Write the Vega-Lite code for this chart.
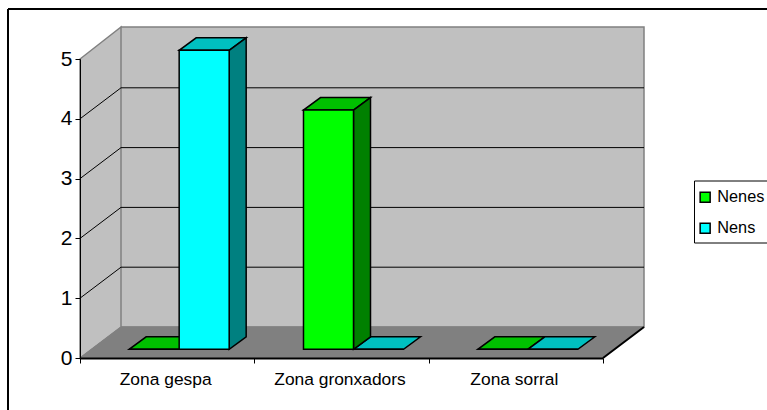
{
"$schema":"https://vega.github.io/schema/vega-lite/v6.json",
"width":523,"height":299,
"autosize":{"type":"none"},
"padding":{"left":80,"top":59,"right":164,"bottom":52},
"background":"white",
"config":{"view":{"stroke":null},"font":"Liberation Sans"},
"layer":[
{"data":{"values":[{}]},
 "mark":{"type":"point","shape":"M41,-31L564,-31L564,-331L41,-331ZM0,0L41,-31L41,-331L0,-299Z","size":4,"filled":true,"fill":"#C0C0C0","stroke":"#808080","strokeWidth":1.5,"opacity":1},
 "encoding":{"x":{"value":0},"y":{"datum":0,"type":"quantitative"}}},
{"data":{"values":[{}]},
 "mark":{"type":"point","shape":"M0,0L41,-31L564,-31L523,0Z","size":4,"filled":true,"fill":"#808080","stroke":"#808080","strokeWidth":1,"opacity":1},
 "encoding":{"x":{"value":0},"y":{"datum":0,"type":"quantitative"}}},
{"data":{"values":[{}]},
 "mark":{"type":"point","shape":"M523,0L564,-31M-72,-349L690,-349M-72,-349L-72,60","size":4,"filled":false,"stroke":"#000000","strokeWidth":2,"opacity":1},
 "encoding":{"x":{"value":0},"y":{"datum":0,"type":"quantitative"}}},
{"data":{"values":[{}]},
 "mark":{"type":"point","shape":"M614.5,-177L700,-177L700,-115L614.5,-115Z","size":4,"filled":false,"stroke":"#000000","strokeWidth":1,"opacity":1},
 "encoding":{"x":{"value":0},"y":{"datum":0,"type":"quantitative"}}},
{"data":{"values":[{"nivell":1},{"nivell":2},{"nivell":3},{"nivell":4}]},
 "mark":{"type":"point","shape":"M0,0L41,-31L564,-31","size":4,"filled":false,"stroke":"#000000","strokeWidth":1,"opacity":1},
 "encoding":{"x":{"value":0},"y":{"field":"nivell","type":"quantitative"}}},
{"data":{"values":[
 {"zona":"Zona gespa","serie":"Nenes","valor":0},
 {"zona":"Zona gespa","serie":"Nens","valor":5},
 {"zona":"Zona gronxadors","serie":"Nenes","valor":4},
 {"zona":"Zona gronxadors","serie":"Nens","valor":0},
 {"zona":"Zona sorral","serie":"Nenes","valor":0},
 {"zona":"Zona sorral","serie":"Nens","valor":0}]},
 "encoding":{
  "x":{"field":"zona","type":"nominal","sort":null,"title":null,
   "scale":{"paddingInner":0,"paddingOuter":0},
   "axis":{"labelAngle":0,"labelFontSize":17.4,"labelColor":"#000000","labelPadding":7,"labelOffset":-2,"tickBand":"extent","tickSize":5,"tickColor":"#000000","domainColor":"#000000","domainWidth":2,"zindex":1,"grid":false,"labelFont":"Liberation Sans"}},
  "xOffset":{"field":"serie","type":"nominal","scale":{"paddingInner":0,"paddingOuter":0.743,"align":0.6615}},
  "y":{"field":"valor","type":"quantitative","title":null,
   "scale":{"domain":[0,5],"nice":false,"zero":true},
   "axis":{"values":[0,1,2,3,4,5],"labelFontSize":21,"labelColor":"#000000","labelPadding":3,"tickSize":5,"tickColor":"#000000","domainColor":"#000000","zindex":1,"grid":false,"labelFont":"Liberation Sans","format":"d"}}
 },
 "layer":[
 {"mark":{"type":"point","shape":"M-25,-8.7L25,-8.7L42,-21.2L-8,-21.2Z","size":4,"filled":true,"stroke":"#000000","strokeWidth":1.5,"opacity":1},
  "encoding":{"fill":{"condition":{"test":"datum.serie==='Nens'","value":"#00C0C0"},"value":"#00C000"}}},
 {"transform":[{"filter":"datum.valor===5"}],
  "mark":{"type":"point","shape":"M25,-8.7L42,-21.2L42,277.8L25,290.3Z","size":4,"filled":true,"fill":"#008080","stroke":"#000000","strokeWidth":1.5,"opacity":1}},
 {"transform":[{"filter":"datum.valor===4"}],
  "mark":{"type":"point","shape":"M25,-8.7L42,-21.2L42,218L25,230.5Z","size":4,"filled":true,"fill":"#008000","stroke":"#000000","strokeWidth":1.5,"opacity":1}},
 {"mark":{"type":"bar","yOffset":-8.7,"stroke":"#000000","strokeWidth":1.5},
  "encoding":{"color":{"field":"serie","type":"nominal","title":null,
    "scale":{"domain":["Nenes","Nens"],"range":["#00FF00","#00FFFF"]},
    "legend":{"orient":"none","legendX":617,"legendY":130,"padding":0,"symbolType":"square","symbolSize":100,"symbolStrokeColor":"#000000","symbolStrokeWidth":1.5,"symbolOpacity":1,"labelFontSize":16.3,"labelColor":"#000000","labelFont":"Liberation Sans","rowPadding":14,"labelOffset":4}}}}
 ]}
]}
